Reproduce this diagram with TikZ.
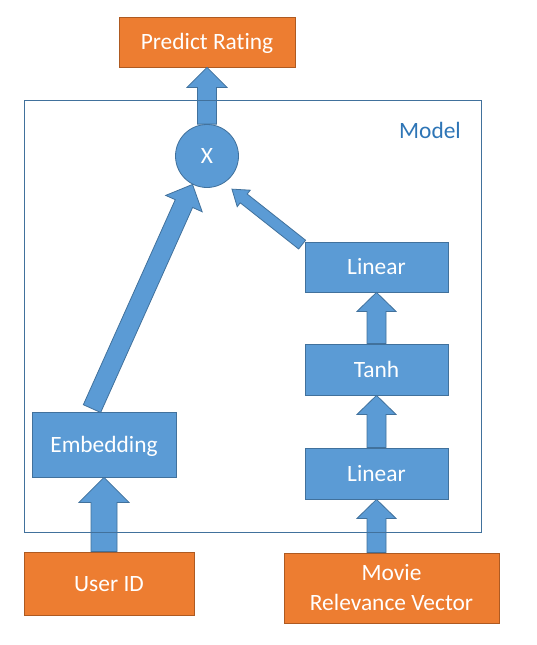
\documentclass[tikz,border=0pt]{standalone}
\usepackage{fontspec}
\setmainfont{Carlito}[Ligatures=NoCommon]
\usetikzlibrary{calc,positioning}

\definecolor{boxblue}{HTML}{5B9BD5}
\definecolor{boxblueline}{HTML}{41719C}
\definecolor{boxorange}{HTML}{ED7D31}
\definecolor{boxorangeline}{HTML}{AE5A21}
\definecolor{labelblue}{HTML}{2E75B6}

% fat arrow: from, to, half shaft, half head, head length
\newcommand{\blockarrow}[5]{%
  \coordinate (ba) at (#1);
  \coordinate (bb) at (#2);
  \coordinate (bh) at ($(bb)!#5pt!(ba)$);
  \draw[fill=boxblue,draw=boxblueline,line width=0.8pt]
    ($(ba)!#3pt!90:(bb)$) -- ($(bh)!#3pt!90:(bb)$) -- ($(bh)!#4pt!90:(bb)$) -- (bb)
    -- ($(bh)!#4pt!-90:(bb)$) -- ($(bh)!#3pt!-90:(bb)$) -- ($(ba)!#3pt!-90:(bb)$) -- cycle;
}

\begin{document}
\begin{tikzpicture}[x=1pt,y=-1pt,
    every node/.style={font=\fontsize{23.4}{30}\selectfont},
    bluebox/.style={draw=boxblueline,fill=boxblue,line width=0.8pt,text=white,inner sep=0pt},
    orangebox/.style={draw=boxorangeline,fill=boxorange,line width=0.8pt,text=white,inner sep=0pt},
    oneline/.style={text height=19.9pt,text depth=4.7pt}]
    \useasboundingbox (0,0) rectangle (537,645);

    \node[orangebox,oneline,minimum width=176pt,minimum height=50pt] (pred) at (207,42) {Predict Rating};
    \node[bluebox,oneline,circle,minimum size=63pt] (x) at (207,156) {X};

    \node[bluebox,oneline,minimum width=143pt,minimum height=50pt] (lin2) at (376.5,267) {Linear};
    \node[bluebox,oneline,minimum width=143pt,minimum height=51pt] (tanh) at (376.5,369.5) {Tanh};
    \node[bluebox,oneline,minimum width=143pt,minimum height=51pt] (lin1) at (376.5,473.5) {Linear};
    \node[bluebox,oneline,minimum width=144pt,minimum height=65pt] (emb) at (104,444.5) {Embedding};

    \node[orangebox,oneline,minimum width=170pt,minimum height=63pt] (user) at (109,583.5) {User ID};
    \node[orangebox,align=center,minimum width=215pt,minimum height=70pt] (movie) at (391.5,588) {Movie\\Relevance Vector};

    \blockarrow{x.north}{pred.south}{9.5}{20}{20}
    \blockarrow{emb.south |- user.north}{emb.south}{13}{25}{25}
    \blockarrow{lin1.south |- movie.north}{lin1.south}{9.5}{19.5}{19}
    \foreach \from/\to in {lin1.north/tanh.south,tanh.north/lin2.south}
        \blockarrow{\from}{\to}{9.5}{19.5}{19};
    \blockarrow{[shift={(-12,-3)}]emb.north}{x.243}{9.5}{20}{21}
    \blockarrow{[shift={(-2.5,3)}]lin2.north west}{$(x)!1.3!(x.307)$}{5.6}{10.5}{15}

    \node[draw=boxblueline,line width=0.8pt,minimum width=457pt,minimum height=432pt,inner sep=0pt] (model) at (252.5,316) {};
    \node[text=labelblue,oneline] (modellabel) at (430,130.5) {Model};
\end{tikzpicture}
\end{document}
